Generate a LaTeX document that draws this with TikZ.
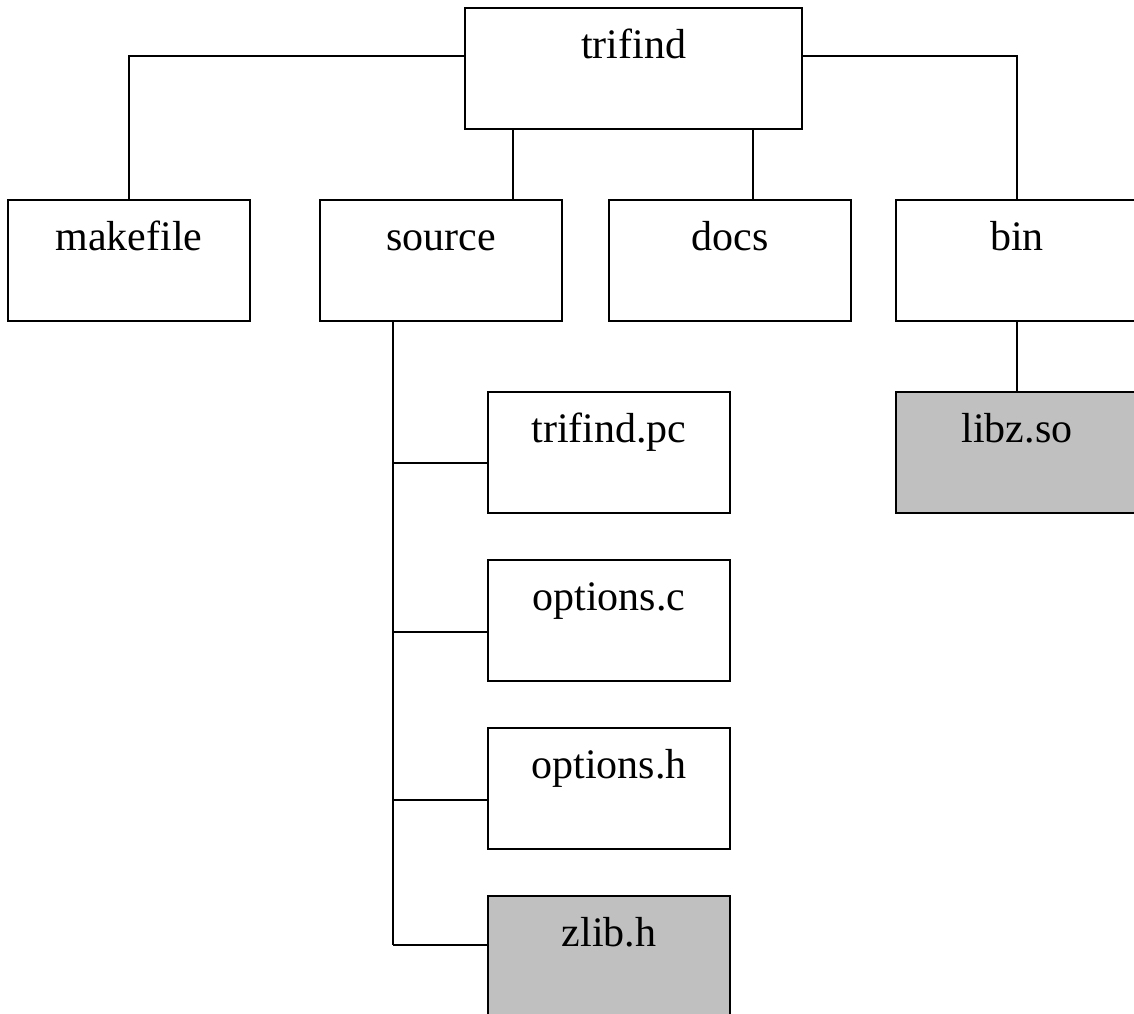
\documentclass[tikz,border=0pt]{standalone}
\usepackage{fontspec}
\setmainfont{Liberation Serif}
\definecolor{boxgray}{HTML}{C0C0C0}
\begin{document}
\begin{tikzpicture}[x=1pt,y=-1pt,
  fbox/.style={draw=black,line width=1.6pt,fill=white,inner sep=0pt,
    minimum width=242pt,text height=51pt,text depth=70pt,
    font=\fontsize{42}{48}\selectfont,anchor=north},
  gbox/.style={fbox,fill=boxgray},
  conn/.style={line width=2.6pt}]
\useasboundingbox (0,0) rectangle (1134,1013);
\fill[white] (0,0) rectangle (1134,1013);
% nodes
\node[fbox,minimum width=337pt] (root) at (633.5,7) {trifind};
\node[fbox] (make) at (129,199) {makefile};
\node[fbox] (src) at (441,199) {source};
\node[fbox] (docs) at (730,199) {docs};
\node[fbox] (bin) at (1017,199) {bin};
\node[gbox] (libz) at (1017,391) {libz.so};
\node[fbox] (pc) at (609,391) {trifind.pc};
\node[fbox] (optc) at (609,559) {options.c};
\node[fbox] (opth) at (609,727) {options.h};
\node[gbox] (zlib) at (609,895) {zlib.h};
% connectors
\coordinate (trunk) at (393,0);
\draw[conn] (root.west |- 0,56) -| (make.north);
\draw[conn] (root.east |- 0,56) -| (bin.north);
\draw[conn] (src.north -| 513,0) -- (root.south -| 513,0);
\draw[conn] (docs.north -| 753,0) -- (root.south -| 753,0);
\draw[conn] (bin.south) -- (libz.north);
\draw[conn] (trunk |- src.south) -- (trunk |- 0,945);
\draw[conn] (trunk |- 0,463) -- (pc.west |- 0,463);
\draw[conn] (trunk |- 0,632) -- (optc.west |- 0,632);
\draw[conn] (trunk |- 0,800) -- (opth.west |- 0,800);
\draw[conn] (trunk |- 0,945) -- (zlib.west |- 0,945);
\end{tikzpicture}
\end{document}
